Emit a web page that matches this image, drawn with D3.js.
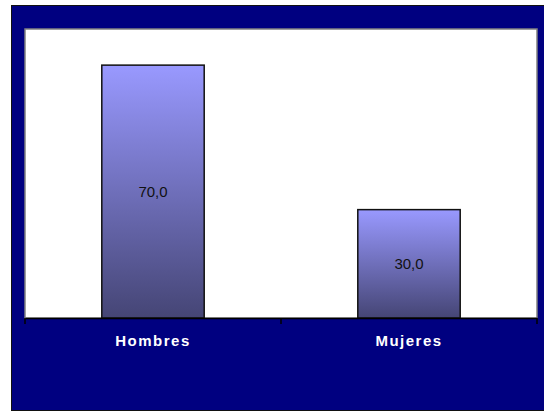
<!DOCTYPE html>
<html>
<head>
<meta charset="utf-8">
<script src="https://cdn.jsdelivr.net/npm/d3@7"></script>
<style>
  body { margin: 0; background: #fff; }
  text { font-family: Arial, "Liberation Sans", sans-serif; }
</style>
</head>
<body>
<svg width="544" height="412"></svg>
<script>
var categories = ["Hombres", "Mujeres"];
var values = [70.0, 30.0];
var yMax = 80;

var svg = d3.select("svg"),
    plot = {left: 25, top: 29, right: 537, bottom: 318},
    width = plot.right - plot.left,
    height = plot.bottom - plot.top;

// navy frame
svg.append("rect")
    .attr("x", 11.5).attr("y", 5.5)
    .attr("width", 540).attr("height", 405)
    .attr("fill", "#000080")
    .attr("stroke", "#111")
    .attr("stroke-width", 1);

var defs = svg.append("defs");
var grad = defs.append("linearGradient")
    .attr("id", "barGrad")
    .attr("x1", 0).attr("y1", 0).attr("x2", 0).attr("y2", 1);
grad.append("stop").attr("offset", "0%").attr("stop-color", "#9999ff");
grad.append("stop").attr("offset", "100%").attr("stop-color", "#454575");

// plot area
svg.append("rect")
    .attr("x", plot.left).attr("y", plot.top)
    .attr("width", width).attr("height", height)
    .attr("fill", "#fff")
    .attr("stroke", "#808080")
    .attr("stroke-width", 1.5);

var g = svg.append("g").attr("transform", "translate(" + plot.left + "," + plot.top + ")");

var x = d3.scaleBand().domain(categories).range([0, width]).paddingInner(0).paddingOuter(0);
var y = d3.scaleLinear().domain([0, yMax]).range([height, 0]);

var barW = x.bandwidth() * 0.4;

var bar = g.selectAll(".bar")
    .data(values)
    .enter().append("g")
    .attr("class", "bar");

bar.append("rect")
    .attr("x", function(d, i) { return x(categories[i]) + (x.bandwidth() - barW) / 2; })
    .attr("y", function(d) { return y(d); })
    .attr("width", barW)
    .attr("height", function(d) { return height - y(d); })
    .attr("fill", "url(#barGrad)")
    .attr("stroke", "#111")
    .attr("stroke-width", 1.5);

bar.append("text")
    .attr("x", function(d, i) { return x(categories[i]) + x.bandwidth() / 2; })
    .attr("y", function(d) { return (y(d) + height) / 2; })
    .attr("dy", "0.35em")
    .attr("text-anchor", "middle")
    .attr("fill", "#111")
    .style("font-size", "15px")
    .text(function(d) { return d.toFixed(1).replace(".", ","); });

// category axis
var xAxis = g.append("g")
    .attr("transform", "translate(0," + height + ")")
    .call(d3.axisBottom(x).tickSize(0).tickPadding(19));
xAxis.select(".domain").attr("stroke", "#000").attr("stroke-width", 1.5);
xAxis.selectAll("text")
    .attr("fill", "#fff")
    .style("font-size", "15px")
    .style("font-weight", "bold")
    .style("letter-spacing", "1.5px")
    .attr("dy", "0.6em");

// tick marks between categories
g.selectAll(".sep")
    .data(d3.range(categories.length + 1))
    .enter().append("line")
    .attr("x1", function(i) { return i * x.step(); })
    .attr("x2", function(i) { return i * x.step(); })
    .attr("y1", height)
    .attr("y2", height + 6)
    .attr("stroke", "#000")
    .attr("stroke-width", 1.5);
</script>
</body>
</html>
